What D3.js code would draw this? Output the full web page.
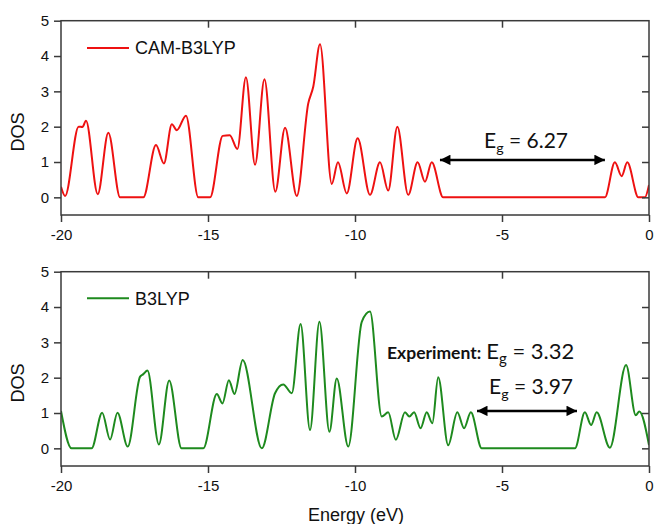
<!DOCTYPE html>
<html>
<head>
<meta charset="utf-8">
<script src="https://cdn.jsdelivr.net/npm/d3@7/dist/d3.min.js"></script>
<style>
  html, body { margin: 0; padding: 0; background: #fff; }
  svg { display: block; }
</style>
</head>
<body>
<svg id="chart" width="656" height="524"></svg>
<script>
// Energy axis and DOS axis ticks
const energyTicks = [-20, -15, -10, -5, 0];
const dosTicks = [0, 1, 2, 3, 4, 5];

// CAM-B3LYP density of states (energy in eV, DOS)
const camEnergy = [-20, -19.86, -19.4, -19.27, -19.15, -18.75, -18.39, -17.99, -17.2, -16.77, -16.5, -16.23, -16.06, -15.75,
  -15.33, -14.93, -14.5, -14.26, -14.0, -13.71, -13.4, -13.08, -12.71, -12.38, -11.98, -11.59, -11.42, -11.19,
  -10.79, -10.58, -10.28, -9.91, -9.49, -9.15, -8.87, -8.56, -8.19, -7.87, -7.62, -7.39, -7.0, -1.5, -1.16,
  -0.93, -0.74, -0.36, -0.14, 0];
const camDos = [0.30, 0.04, 2.0, 1.99, 2.17, 0.09, 1.83, 0, 0, 1.48, 0.96, 2.07, 1.9, 2.31,
  0, 0, 1.74, 1.76, 1.37, 3.40, 0.92, 3.34, 0.16, 1.97, 0.04, 2.66, 3.13, 4.33,
  0.38, 0.99, 0.11, 1.67, 0.07, 0.99, 0.19, 2.0, 0.07, 0.99, 0.44, 0.99, 0, 0, 0.99,
  0.6, 0.99, 0, 0, 0.35];

// B3LYP density of states (energy in eV, DOS)
const b3Energy = [-20, -19.64, -18.96, -18.6, -18.33, -18.08, -17.73, -17.31, -17.2, -17.06, -16.67, -16.32, -15.9, -15.16,
  -14.70, -14.51, -14.29, -14.1, -13.82, -13.17, -12.72, -12.44, -12.15, -11.85, -11.53, -11.21, -10.87, -10.62,
  -10.23, -9.77, -9.49, -9.09, -8.87, -8.61, -8.3, -8.15, -7.99, -7.77, -7.56, -7.37, -7.17, -6.83, -6.52,
  -6.29, -6.06, -5.69, -2.52, -2.18, -1.97, -1.78, -1.33, -0.78, -0.45, -0.33, 0];
const b3Dos = [1.06, 0, 0, 1.01, 0.25, 1.01, 0.05, 2.03, 2.1, 2.2, 0.11, 1.92, 0, 0,
  1.54, 1.27, 1.93, 1.54, 2.5, 0, 1.56, 1.81, 1.56, 3.52, 0.52, 3.58, 0.47, 1.98,
  0.05, 3.58, 3.87, 0.9, 1.02, 0.24, 1.02, 0.9, 1.02, 0.57, 1.02, 0.71, 2.01, 0.09, 1.02,
  0.57, 1.02, 0, 0, 1.02, 0.66, 1.02, 0.02, 2.36, 0.94, 1.04, 0.09];

// Band-gap arrows: [from, to] in eV, drawn at DOS level
const camGapArrow = [-7.11, -1.5];
const b3GapArrow = [-5.85, -2.45];
const gapArrowLevel = 1.06;

const svg = d3.select("#chart");
const left = 61, right = 649;
const x = d3.scaleLinear().domain([-20, 0]).range([left, right]);
const plainNumber = d => String(d);

const defs = svg.append("defs");
defs.append("marker")
  .attr("id", "head")
  .attr("viewBox", "0 0 10 10")
  .attr("refX", 10).attr("refY", 5)
  .attr("markerWidth", 5.2).attr("markerHeight", 4.2)
  .attr("markerUnits", "strokeWidth")
  .attr("orient", "auto-start-reverse")
  .append("path").attr("d", "M0,0 L10,5 L0,10 Z").attr("fill", "#000");

function panel(opts) {
  const y = d3.scaleLinear().domain([-0.5, 5]).range([opts.bottom, opts.top]);
  const g = svg.append("g");
  const frameColor = "#3a3a3a";

  // curve
  const pts = opts.energy.map((e, i) => [e, opts.dos[i]]);
  const line = d3.line().x(d => x(d[0])).y(d => y(d[1])).curve(d3.curveMonotoneX);
  const clipId = "clip" + opts.id;
  defs.append("clipPath").attr("id", clipId)
    .append("rect").attr("x", left).attr("y", opts.top).attr("width", right - left).attr("height", opts.bottom - opts.top);
  g.append("path").datum(pts)
    .attr("clip-path", `url(#${clipId})`)
    .attr("d", line)
    .attr("fill", "none")
    .attr("stroke", opts.color)
    .attr("stroke-width", 2)
    .attr("stroke-linejoin", "round");

  // axes
  const axisStyle = sel => {
    sel.select(".domain").remove();
    sel.selectAll(".tick line").attr("stroke", frameColor).attr("stroke-width", 1.5);
    sel.selectAll(".tick text").attr("fill", "#111")
      .style("font-family", "'Liberation Sans', Arial, sans-serif").style("font-size", "15px");
  };
  g.append("g").attr("transform", `translate(0,${opts.bottom})`)
    .call(d3.axisBottom(x).tickValues(energyTicks).tickSize(7).tickPadding(7).tickFormat(plainNumber))
    .call(axisStyle);
  g.append("g").attr("transform", `translate(0,${opts.top})`)
    .call(d3.axisBottom(x).tickValues(energyTicks.slice(1, -1)).tickSize(7).tickFormat(""))
    .call(axisStyle);
  g.append("g").attr("transform", `translate(${left},0)`)
    .call(d3.axisLeft(y).tickValues(dosTicks).tickSize(7).tickPadding(5).tickFormat(plainNumber))
    .call(axisStyle);
  g.append("g").attr("transform", `translate(${right},0)`)
    .call(d3.axisLeft(y).tickValues(dosTicks.slice(0, -1)).tickSize(7).tickFormat(""))
    .call(axisStyle);

  // frame
  g.append("rect")
    .attr("x", left).attr("y", opts.top)
    .attr("width", right - left).attr("height", opts.bottom - opts.top)
    .attr("fill", "none").attr("stroke", frameColor).attr("stroke-width", 1.5);

  // y title
  g.append("text")
    .attr("transform", `translate(24,${(y(0) + y(3.7)) / 2}) rotate(-90)`)
    .attr("text-anchor", "middle")
    .style("font-family", "'Liberation Sans', Arial, sans-serif").style("font-size", "18px")
    .attr("fill", "#111")
    .text("DOS");

  // legend
  const ly = y(opts.legendLevel);
  g.append("line")
    .attr("x1", 87).attr("x2", 129).attr("y1", ly).attr("y2", ly)
    .attr("stroke", opts.color).attr("stroke-width", 2);
  g.append("text")
    .attr("x", 135).attr("y", ly).attr("dy", "0.36em")
    .style("font-family", "'Liberation Sans', Arial, sans-serif").style("font-size", "18px")
    .attr("fill", "#111")
    .text(opts.name);

  // gap arrow
  g.append("line")
    .attr("x1", x(opts.arrow[0])).attr("x2", x(opts.arrow[1]))
    .attr("y1", y(gapArrowLevel)).attr("y2", y(gapArrowLevel))
    .attr("stroke", "#000").attr("stroke-width", 2.5)
    .attr("marker-start", "url(#head)").attr("marker-end", "url(#head)");

  return { g, y };
}

function gapLabel(g, px, py, value, size) {
  const t = g.append("text").attr("x", px).attr("y", py)
    .style("font-family", "Lato, 'Open Sans', sans-serif").style("font-size", size + "px")
    .attr("fill", "#111");
  t.append("tspan").text("E");
  t.append("tspan").attr("dy", size * 0.22).style("font-size", (size * 0.68) + "px").text("g");
  t.append("tspan").attr("dy", -size * 0.22).text(" = " + value);
  return t;
}

const topPanel = panel({ id: "a", top: 20.7, bottom: 215, color: "#ee1111", energy: camEnergy, dos: camDos,
  name: "CAM-B3LYP", legendLevel: 4.23, arrow: camGapArrow });
const bottomPanel = panel({ id: "b", top: 271.7, bottom: 466, color: "#1e8a1e", energy: b3Energy, dos: b3Dos,
  name: "B3LYP", legendLevel: 4.25, arrow: b3GapArrow });

gapLabel(topPanel.g, 484, 148, "6.27", 21);

const exp = bottomPanel.g.append("text").attr("x", 387).attr("y", 359)
  .style("font-family", "Lato, 'Open Sans', sans-serif").attr("fill", "#111");
exp.append("tspan").style("font-size", "17.5px").style("font-weight", "bold").text("Experiment:");
exp.append("tspan").attr("dx", 5).style("font-size", "22px").text("E");
exp.append("tspan").attr("dy", 4.8).style("font-size", "15px").text("g");
exp.append("tspan").attr("dy", -4.8).style("font-size", "22px").text(" = 3.32");

gapLabel(bottomPanel.g, 489, 394, "3.97", 21);

// x title
svg.append("text")
  .attr("x", (left + right) / 2 + 1).attr("y", 521)
  .attr("text-anchor", "middle")
  .style("font-family", "'Liberation Sans', Arial, sans-serif").style("font-size", "18px")
  .attr("fill", "#111")
  .text("Energy (eV)");
</script>
</body>
</html>
